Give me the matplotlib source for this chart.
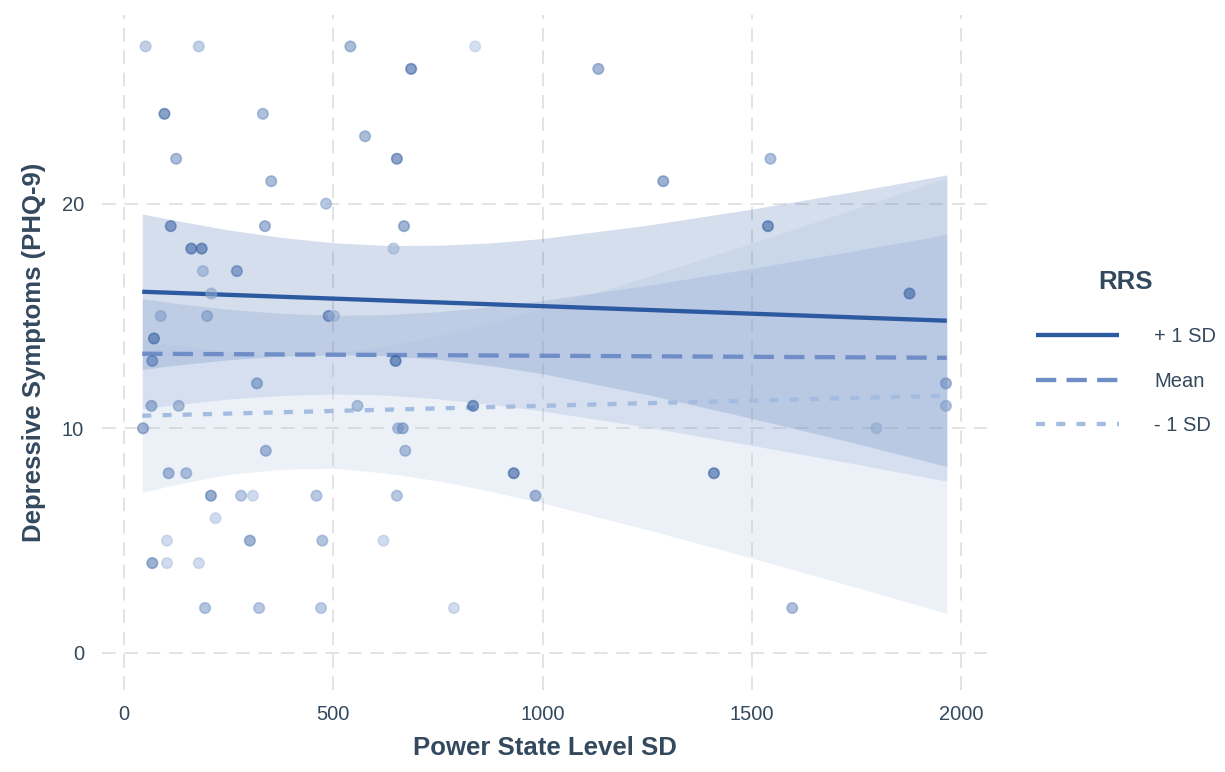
import numpy as np
import matplotlib.pyplot as plt
from matplotlib.colors import LinearSegmentedColormap

plt.rcParams['font.family'] = ['Liberation Sans', 'DejaVu Sans']

# observed participants: power state level SD, PHQ-9 score, RRS (scaled 0-1)
power_sd = [52, 179, 541, 839, 686, 1133, 97, 332, 576, 125, 652, 1544, 352, 1288,
            483, 112, 337, 669, 1538, 161, 186, 644, 189, 270, 209, 1876, 88, 199,
            489, 502, 72, 68, 649, 318, 1963, 66, 131, 558, 834, 1963, 46, 655,
            666, 1797, 339, 672, 107, 149, 931, 1409, 208, 280, 308, 460, 652, 983,
            219, 103, 301, 474, 620, 68, 103, 179, 194, 323, 471, 788, 1596]
phq9 = [27, 27, 27, 27, 26, 26, 24, 24, 23, 22, 22, 22, 21, 21,
        20, 19, 19, 19, 19, 18, 18, 18, 17, 17, 16, 16, 15, 15,
        15, 15, 14, 13, 13, 12, 12, 11, 11, 11, 11, 11, 10, 10,
        10, 10, 9, 9, 8, 8, 8, 8, 7, 7, 7, 7, 7, 7,
        6, 5, 5, 5, 5, 4, 4, 4, 2, 2, 2, 2, 2]
rrs = [0.3, 0.3, 0.55, 0.1, 0.9, 0.6, 0.9, 0.5, 0.55, 0.55, 0.85, 0.5, 0.55, 0.7,
       0.4, 0.85, 0.6, 0.65, 0.9, 0.9, 0.9, 0.3, 0.4, 0.75, 0.4, 0.9, 0.45, 0.5,
       0.8, 0.35, 0.9, 0.75, 0.95, 0.65, 0.6, 0.6, 0.5, 0.45, 0.9, 0.45, 0.65, 0.45,
       0.6, 0.35, 0.6, 0.5, 0.6, 0.5, 0.95, 0.95, 0.75, 0.4, 0.15, 0.4, 0.4, 0.6,
       0.15, 0.15, 0.65, 0.45, 0.15, 0.7, 0.15, 0.15, 0.45, 0.4, 0.35, 0.15, 0.5]

# simple slopes at RRS +1 SD / mean / -1 SD with 95% confidence bands
line_x = [44, 1965]
plus_fit = [16.08, 14.79]
mean_fit = [13.32, 13.14]
minus_fit = [10.56, 11.45]

band_x = [44, 125, 250, 375, 500, 625, 750, 875, 1000, 1250, 1500, 1750, 1965]
plus_hi = [19.54, 19.25, 18.83, 18.50, 18.26, 18.14, 18.15, 18.25, 18.45, 19.04, 19.76, 20.56, 21.28]
plus_lo = [12.62, 12.81, 13.05, 13.22, 13.28, 13.24, 13.07, 12.79, 12.43, 11.50, 10.44, 9.32, 8.30]
mean_hi = [15.77, 15.56, 15.30, 15.12, 15.03, 15.06, 15.19, 15.41, 15.69, 16.37, 17.12, 17.92, 18.63]
mean_lo = [10.87, 11.06, 11.30, 11.46, 11.53, 11.48, 11.31, 11.07, 10.77, 10.05, 9.24, 8.40, 7.65]
minus_hi = [13.97, 13.70, 13.40, 13.27, 13.35, 13.65, 14.12, 14.68, 15.33, 16.75, 18.24, 19.79, 21.14]
minus_lo = [7.15, 7.50, 7.95, 8.17, 8.22, 8.01, 7.66, 7.20, 6.67, 5.49, 4.22, 2.91, 1.76]

x_ticks = [0, 500, 1000, 1500, 2000]
y_ticks = [0, 10, 20]

c_plus = '#2c5aa0'
c_mean = '#6f8dc6'
c_minus = '#a4bce0'
text_col = '#34495e'

fig = plt.figure(figsize=(12.25, 7.72), dpi=100)
ax = fig.add_axes([0.0833, 0.1062, 0.7224, 0.8744])

for lo, hi, c in [(plus_lo, plus_hi, c_plus), (mean_lo, mean_hi, c_mean),
                  (minus_lo, minus_hi, c_minus)]:
    ax.fill_between(band_x, lo, hi, color=c, alpha=0.2, linewidth=0, zorder=1)

ax.plot(line_x, plus_fit, color=c_plus, lw=3.1, solid_capstyle='butt', zorder=2, label='+ 1 SD')
ax.plot(line_x, mean_fit, color=c_mean, lw=3.1, dashes=(4.7, 2.4), zorder=2, label='Mean')
ax.plot(line_x, minus_fit, color=c_minus, lw=3.1, dashes=(2.1, 2.6), zorder=2, label='- 1 SD')

pt_cmap = LinearSegmentedColormap.from_list('rrs', ['#c9d9ef', '#2a569c'])
ax.scatter(power_sd, phq9, c=rrs, cmap=pt_cmap, vmin=0, vmax=1, s=56, alpha=0.6,
           linewidths=1.2, edgecolors='face', zorder=3)

ax.set_xlim(-52, 2061)
ax.set_ylim(-1.65, 28.4)
ax.set_xticks(x_ticks)
ax.set_yticks(y_ticks)
ax.grid(True, color='#e3e3e3', lw=1.4, dashes=(7, 4.5))
ax.set_axisbelow(True)
for s in ax.spines.values():
    s.set_visible(False)
ax.tick_params(length=0, labelsize=14.5, labelcolor=text_col, pad=13)
ax.tick_params(axis='x', pad=10.5)

ax.set_xlabel('Power State Level SD', fontsize=18.5, fontweight='bold', color=text_col, labelpad=9)
ax.set_ylabel('Depressive Symptoms (PHQ-9)', fontsize=18.5, fontweight='bold', color=text_col, labelpad=11)

leg = ax.legend(title='RRS', loc='center left', bbox_to_anchor=(1.035, 0.5), frameon=False,
                fontsize=14.5, handlelength=4.1, handletextpad=1.75, labelspacing=1.25,
                labelcolor=text_col)
leg.get_title().set_fontweight('bold')
leg.get_title().set_fontsize(18.5)
leg.get_title().set_color(text_col)
leg._legend_box.sep = 24

fig.savefig('out.png', dpi=100)
